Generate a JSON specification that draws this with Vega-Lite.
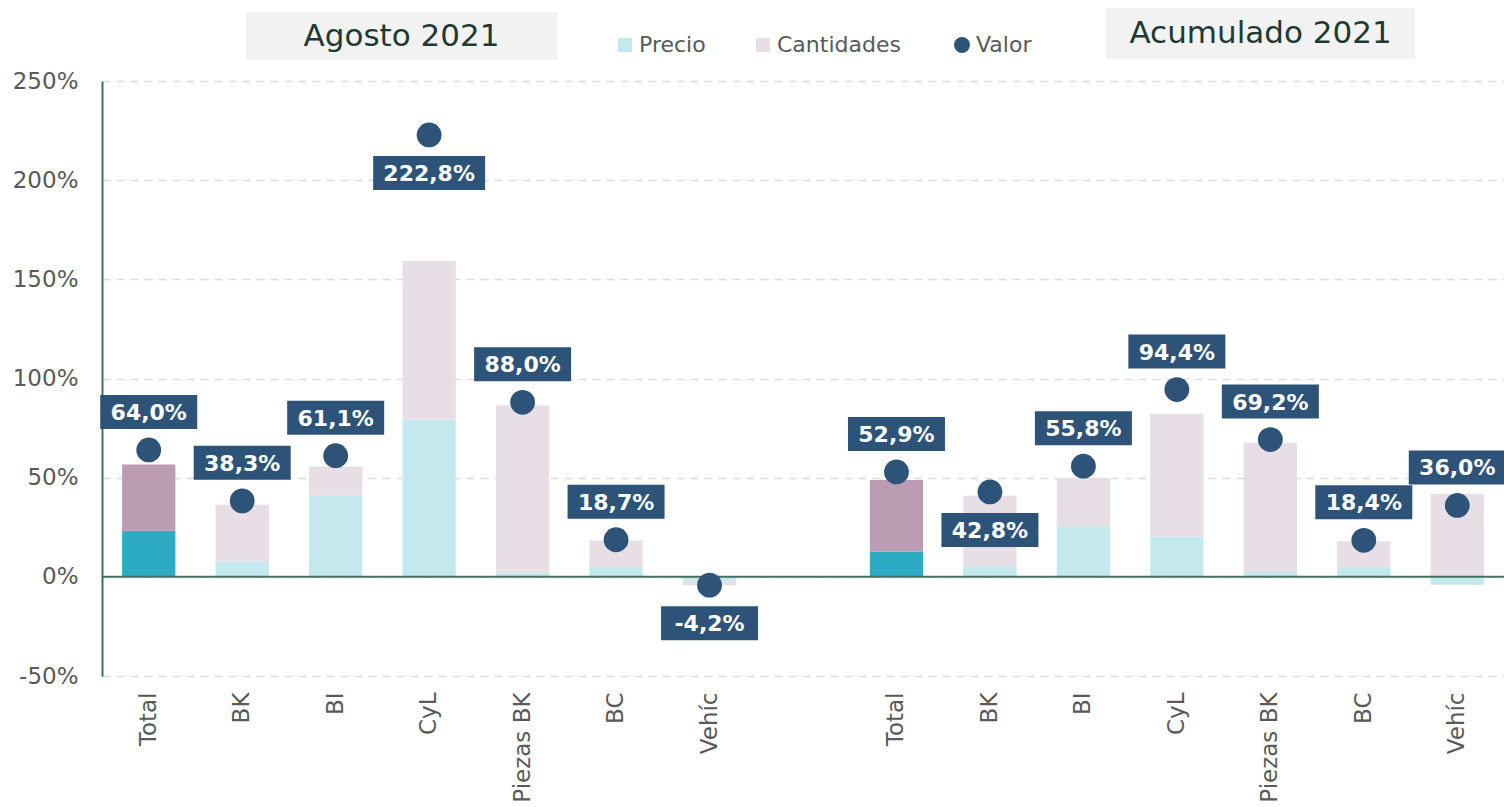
{
  "$schema": "https://vega.github.io/schema/vega-lite/v6.json",
  "autosize": {"type": "none"},
  "padding": {"left": 102, "top": 81, "right": 0, "bottom": 131},
  "width": 1402,
  "height": 595,
  "background": "white",
  "config": {
    "view": {"stroke": null},
    "locale": {"number": {"decimal": ",", "thousands": ".", "grouping": [3], "currency": ["", " €"], "minus": "-"}}
  },
  "datasets": {
    "barras": [
      {"clave": "Agosto|Total", "cat": "Total", "serie": "Precio", "pct": 0.232},
      {"clave": "Agosto|Total", "cat": "Total", "serie": "Cantidades", "pct": 0.334},
      {"clave": "Agosto|BK", "cat": "BK", "serie": "Precio", "pct": 0.077},
      {"clave": "Agosto|BK", "cat": "BK", "serie": "Cantidades", "pct": 0.287},
      {"clave": "Agosto|BI", "cat": "BI", "serie": "Precio", "pct": 0.409},
      {"clave": "Agosto|BI", "cat": "BI", "serie": "Cantidades", "pct": 0.147},
      {"clave": "Agosto|CyL", "cat": "CyL", "serie": "Precio", "pct": 0.793},
      {"clave": "Agosto|CyL", "cat": "CyL", "serie": "Cantidades", "pct": 0.800},
      {"clave": "Agosto|Piezas BK", "cat": "Piezas BK", "serie": "Precio", "pct": 0.018},
      {"clave": "Agosto|Piezas BK", "cat": "Piezas BK", "serie": "Cantidades", "pct": 0.846},
      {"clave": "Agosto|BC", "cat": "BC", "serie": "Precio", "pct": 0.050},
      {"clave": "Agosto|BC", "cat": "BC", "serie": "Cantidades", "pct": 0.133},
      {"clave": "Agosto|Vehíc", "cat": "Vehíc", "serie": "Precio", "pct": -0.020},
      {"clave": "Agosto|Vehíc", "cat": "Vehíc", "serie": "Cantidades", "pct": -0.023},
      {"clave": "Acum|Total", "cat": "Total", "serie": "Precio", "pct": 0.128},
      {"clave": "Acum|Total", "cat": "Total", "serie": "Cantidades", "pct": 0.360},
      {"clave": "Acum|BK", "cat": "BK", "serie": "Precio", "pct": 0.053},
      {"clave": "Acum|BK", "cat": "BK", "serie": "Cantidades", "pct": 0.356},
      {"clave": "Acum|BI", "cat": "BI", "serie": "Precio", "pct": 0.255},
      {"clave": "Acum|BI", "cat": "BI", "serie": "Cantidades", "pct": 0.243},
      {"clave": "Acum|CyL", "cat": "CyL", "serie": "Precio", "pct": 0.202},
      {"clave": "Acum|CyL", "cat": "CyL", "serie": "Cantidades", "pct": 0.620},
      {"clave": "Acum|Piezas BK", "cat": "Piezas BK", "serie": "Precio", "pct": 0.024},
      {"clave": "Acum|Piezas BK", "cat": "Piezas BK", "serie": "Cantidades", "pct": 0.652},
      {"clave": "Acum|BC", "cat": "BC", "serie": "Precio", "pct": 0.049},
      {"clave": "Acum|BC", "cat": "BC", "serie": "Cantidades", "pct": 0.130},
      {"clave": "Acum|Vehíc", "cat": "Vehíc", "serie": "Precio", "pct": -0.040},
      {"clave": "Acum|Vehíc", "cat": "Vehíc", "serie": "Cantidades", "pct": 0.418}
    ],
    "valor": [
      {"clave": "Agosto|Total", "periodo": "Agosto", "cat": "Total", "valor": 0.640},
      {"clave": "Agosto|BK", "periodo": "Agosto", "cat": "BK", "valor": 0.383},
      {"clave": "Agosto|BI", "periodo": "Agosto", "cat": "BI", "valor": 0.611},
      {"clave": "Agosto|CyL", "periodo": "Agosto", "cat": "CyL", "valor": 2.228},
      {"clave": "Agosto|Piezas BK", "periodo": "Agosto", "cat": "Piezas BK", "valor": 0.880},
      {"clave": "Agosto|BC", "periodo": "Agosto", "cat": "BC", "valor": 0.187},
      {"clave": "Agosto|Vehíc", "periodo": "Agosto", "cat": "Vehíc", "valor": -0.042},
      {"clave": "Acum|Total", "periodo": "Acum", "cat": "Total", "valor": 0.529},
      {"clave": "Acum|BK", "periodo": "Acum", "cat": "BK", "valor": 0.428},
      {"clave": "Acum|BI", "periodo": "Acum", "cat": "BI", "valor": 0.558},
      {"clave": "Acum|CyL", "periodo": "Acum", "cat": "CyL", "valor": 0.944},
      {"clave": "Acum|Piezas BK", "periodo": "Acum", "cat": "Piezas BK", "valor": 0.692},
      {"clave": "Acum|BC", "periodo": "Acum", "cat": "BC", "valor": 0.184},
      {"clave": "Acum|Vehíc", "periodo": "Acum", "cat": "Vehíc", "valor": 0.360}
    ]
  },
  "encoding": {
    "x": {
      "field": "clave",
      "type": "nominal",
      "sort": null,
      "scale": {
        "domain": ["Agosto|Total", "Agosto|BK", "Agosto|BI", "Agosto|CyL", "Agosto|Piezas BK", "Agosto|BC", "Agosto|Vehíc", "|", "Acum|Total", "Acum|BK", "Acum|BI", "Acum|CyL", "Acum|Piezas BK", "Acum|BC", "Acum|Vehíc"],
        "paddingInner": 0.43,
        "paddingOuter": 0.215
      },
      "axis": {
        "title": null,
        "labelExpr": "split(datum.value, '|')[1]",
        "labelAngle": -90,
        "labelFont": "DejaVu Sans",
        "labelFontSize": 23,
        "labelColor": "#595959",
        "labelPadding": 16,
        "domain": false,
        "ticks": false,
        "grid": false
      }
    }
  },
  "layer": [
    {
      "data": {"name": "barras"},
      "mark": {"type": "bar"},
      "encoding": {
        "y": {
          "field": "pct",
          "type": "quantitative",
          "stack": "zero",
          "scale": {"domain": [-0.5, 2.5], "nice": false, "zero": false},
          "axis": {
            "title": null,
            "values": [-0.5, 0, 0.5, 1, 1.5, 2, 2.5],
            "format": ".0%",
            "grid": true,
            "gridDash": [8, 6],
            "gridColor": "#DCDCDC",
            "gridWidth": 1.5,
            "domainColor": "#44705F",
            "domainWidth": 2,
            "ticks": false,
            "labelFont": "DejaVu Sans",
            "labelFontSize": 23,
            "labelColor": "#595959",
            "labelPadding": 24
          }
        },
        "color": {
          "field": "serie",
          "type": "nominal",
          "scale": {"domain": ["Precio", "Cantidades"], "range": ["#C3E9EF", "#E8DEE6"]},
          "legend": {
            "title": null,
            "orient": "none",
            "legendX": 512,
            "legendY": -47,
            "direction": "horizontal",
            "symbolType": "square",
            "symbolSize": 196,
            "symbolStrokeWidth": 0,
            "labelFont": "DejaVu Sans",
            "labelFontSize": 22,
            "labelColor": "#595959",
            "labelOffset": 3,
            "columnPadding": 46
          },
          "condition": [
            {"test": "datum.cat === 'Total' && datum.serie === 'Precio'", "value": "#2EABC4"},
            {"test": "datum.cat === 'Total' && datum.serie === 'Cantidades'", "value": "#BB9CB2"}
          ]
        },
        "order": {"field": "serie", "sort": "descending"}
      }
    },
    {
      "data": {"values": [{"nivel": "cero"}]},
      "mark": {"type": "rule", "color": "#44705F", "strokeWidth": 2},
      "encoding": {"x": null, "y": {"datum": 0, "type": "quantitative"}}
    },
    {
      "data": {"name": "valor"},
      "mark": {"type": "point", "filled": true, "opacity": 1, "size": 615, "color": "#2D5478"},
      "encoding": {
        "y": {"field": "valor", "type": "quantitative", "axis": {"title": null}},
        "shape": {
          "datum": "Valor",
          "scale": {"range": ["circle"]},
          "legend": {
            "title": null,
            "orient": "none",
            "legendX": 849,
            "legendY": -47,
            "symbolSize": 254,
            "symbolFillColor": "#2D5478",
            "symbolStrokeWidth": 0,
            "labelFont": "DejaVu Sans",
            "labelFontSize": 22,
            "labelColor": "#595959",
            "labelOffset": 3
          }
        }
      }
    },
    {
      "data": {"name": "valor"},
      "transform": [{"filter": "!((datum.periodo === 'Agosto' && (datum.cat === 'CyL' || datum.cat === 'Vehíc')) || (datum.periodo === 'Acum' && datum.cat === 'BK'))"}],
      "layer": [
        {
          "mark": {"type": "point", "filled": true, "opacity": 1, "color": "#2D5478", "strokeWidth": 0, "yOffset": -38},
          "encoding": {
            "y": {"field": "valor", "type": "quantitative", "axis": {"title": null}},
            "shape": {"condition": {"test": "abs(datum.valor) >= 1", "value": "M-1,-0.3036L1,-0.3036L1,0.3036L-1,0.3036Z"}, "value": "M-1,-0.3505L1,-0.3505L1,0.3505L-1,0.3505Z"},
            "size": {"condition": {"test": "abs(datum.valor) >= 1", "value": 12544}, "value": 9409}
          }
        },
        {
          "mark": {"type": "text", "font": "DejaVu Sans", "fontWeight": "bold", "fontSize": 22, "color": "white", "align": "center", "baseline": "middle", "yOffset": -37},
          "encoding": {
            "y": {"field": "valor", "type": "quantitative", "axis": {"title": null}},
            "text": {"field": "valor", "type": "quantitative", "format": ".1%"}
          }
        }
      ]
    },
    {
      "data": {"name": "valor"},
      "transform": [{"filter": "(datum.periodo === 'Agosto' && (datum.cat === 'CyL' || datum.cat === 'Vehíc')) || (datum.periodo === 'Acum' && datum.cat === 'BK')"}],
      "layer": [
        {
          "mark": {"type": "point", "filled": true, "opacity": 1, "color": "#2D5478", "strokeWidth": 0, "yOffset": 38},
          "encoding": {
            "y": {"field": "valor", "type": "quantitative", "axis": {"title": null}},
            "shape": {"condition": {"test": "abs(datum.valor) >= 1", "value": "M-1,-0.3036L1,-0.3036L1,0.3036L-1,0.3036Z"}, "value": "M-1,-0.3505L1,-0.3505L1,0.3505L-1,0.3505Z"},
            "size": {"condition": {"test": "abs(datum.valor) >= 1", "value": 12544}, "value": 9409}
          }
        },
        {
          "mark": {"type": "text", "font": "DejaVu Sans", "fontWeight": "bold", "fontSize": 22, "color": "white", "align": "center", "baseline": "middle", "yOffset": 39},
          "encoding": {
            "y": {"field": "valor", "type": "quantitative", "axis": {"title": null}},
            "text": {"field": "valor", "type": "quantitative", "format": ".1%"}
          }
        }
      ]
    },
    {
      "data": {"values": [{"titulo": "Agosto 2021", "clave": "Agosto|CyL"}]},
      "layer": [
        {
          "mark": {"type": "point", "filled": true, "opacity": 1, "color": "#F2F2F2", "strokeWidth": 0, "xOffset": -27.6, "size": 96721, "shape": "M-1,-0.1543L1,-0.1543L1,0.1543L-1,0.1543Z"},
          "encoding": {"y": {"datum": 2.727, "type": "quantitative"}}
        },
        {
          "mark": {"type": "text", "font": "DejaVu Sans", "fontSize": 31, "color": "#1E3A32", "align": "center", "baseline": "middle", "xOffset": -27.6, "yOffset": 1},
          "encoding": {"y": {"datum": 2.727, "type": "quantitative"}, "text": {"field": "titulo"}}
        }
      ]
    },
    {
      "data": {"values": [{"titulo": "Acumulado 2021", "clave": "Acum|Piezas BK"}]},
      "layer": [
        {
          "mark": {"type": "point", "filled": true, "opacity": 1, "color": "#F2F2F2", "strokeWidth": 0, "xOffset": -9.8, "size": 95481, "shape": "M-1,-0.165L1,-0.165L1,0.165L-1,0.165Z"},
          "encoding": {"y": {"datum": 2.74, "type": "quantitative"}}
        },
        {
          "mark": {"type": "text", "font": "DejaVu Sans", "fontSize": 31, "color": "#1E3A32", "align": "center", "baseline": "middle", "xOffset": -9.8, "yOffset": 1},
          "encoding": {"y": {"datum": 2.74, "type": "quantitative"}, "text": {"field": "titulo"}}
        }
      ]
    }
  ]
}
